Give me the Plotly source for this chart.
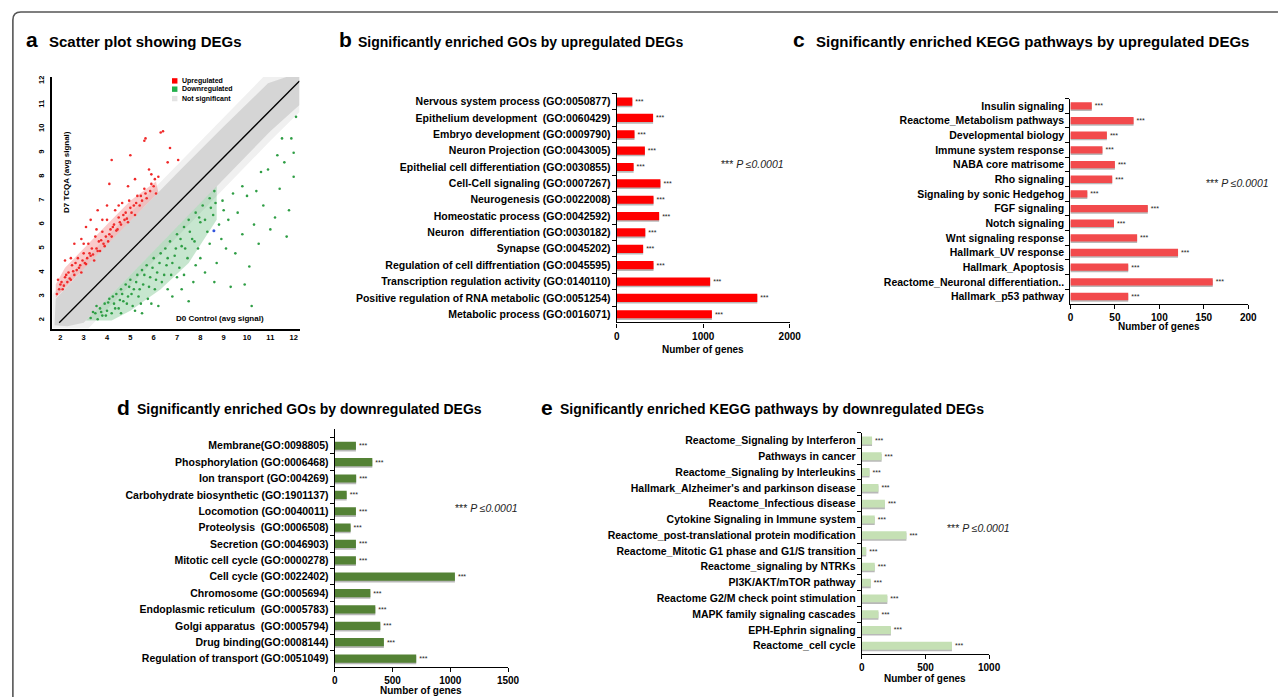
import plotly.graph_objects as go

W, H = 1287, 697


def px(x):
    return x / W


def py(y):
    return 1 - y / H


FONT = "Liberation Sans, Arial, sans-serif"

# ---------------- Panel a: scatter ----------------
gray_outer_x = [1.66, 1.66, 3.0, 5.0, 7.0, 9.0, 10.7, 12.25, 12.25, 11.0, 9.0, 7.0, 5.0, 3.2]
gray_outer_y = [1.66, 3.1, 4.5, 6.5, 8.5, 10.5, 12.17, 12.17, 10.7, 9.5, 7.5, 5.5, 3.5, 1.66]
gray_inner_x = [1.75, 1.8, 3.0, 5.0, 7.0, 9.0, 10.9, 11.7, 12.25, 12.25, 11.0, 9.0, 7.0, 5.0, 3.0, 2.3]
gray_inner_y = [1.8, 2.9, 4.15, 6.15, 8.15, 10.1, 11.9, 12.17, 12.17, 11.0, 9.9, 7.9, 5.9, 3.9, 1.9, 1.75]
red_band_x = [1.8, 6.2, 6.1, 5.0, 4.0, 3.0, 2.2, 1.8]
red_band_y = [2.95, 7.35, 7.8, 7.0, 6.0, 5.0, 4.2, 3.5]
green_band_x = [3.1, 8.7, 8.7, 7.5, 6.3, 5.0, 4.2]
green_band_y = [2.0, 7.6, 6.2, 4.4, 3.3, 2.4, 2.0]

up_x = [1.85, 2.0, 2.1, 2.2, 2.3, 2.35, 2.45, 2.5, 2.6, 2.7, 2.75, 2.85, 2.9, 3.0, 3.05, 3.15,
        3.2, 3.3, 3.35, 3.45, 3.5, 3.55, 3.65, 3.7, 3.8, 3.85, 3.95, 4.0, 4.05, 4.15, 4.2, 4.3,
        4.35, 4.45, 4.5, 4.6, 4.65, 4.75, 4.8, 4.9, 4.95, 5.05, 5.15, 5.2, 5.3, 5.4, 5.5, 5.6,
        5.7, 5.85, 6.0, 6.1, 2.6, 3.1, 3.6, 4.1, 4.2, 5.2, 5.6, 6.3, 6.2, 5.8, 7.05, 6.6, 4.9,
        3.3, 2.9, 6.7, 5.0, 5.65, 6.4,
        1.95, 2.05, 2.15, 2.25, 2.4, 2.55, 2.65, 2.8, 2.95, 3.1, 3.25, 3.4, 3.6, 3.75, 3.9,
        4.1, 4.25, 4.4, 4.55, 4.7, 4.85, 5.0, 5.25, 5.45, 5.65, 5.9, 6.05, 2.45, 3.55, 4.5,
        3.0, 2.2, 1.9, 5.9, 4.0, 3.8]
up_y = [3.1, 3.5, 3.3, 3.8, 3.6, 4.0, 3.7, 4.3, 3.9, 4.1, 4.6, 4.3, 4.0, 4.8, 4.4, 4.6,
        5.2, 4.7, 5.0, 4.5, 5.5, 5.0, 5.3, 4.9, 5.7, 5.2, 5.5, 6.2, 5.3, 5.8, 5.5, 6.0,
        6.6, 5.8, 6.3, 6.0, 6.9, 6.2, 6.5, 6.1, 7.0, 6.5, 6.8, 6.4, 7.2, 6.8, 7.0, 7.5,
        7.1, 7.4, 7.6, 7.3, 5.2, 5.9, 6.6, 7.7, 8.7, 7.9, 9.5, 9.85, 8.0, 8.3, 8.7, 8.6, 7.6,
        6.2, 5.4, 9.2, 8.9, 9.6, 9.9,
        3.3, 3.6, 3.45, 3.9, 3.75, 4.05, 4.4, 4.2, 4.5, 4.35, 4.8, 4.75, 4.9, 5.35, 5.1,
        5.6, 5.9, 5.75, 6.1, 6.4, 6.25, 6.7, 6.9, 7.2, 7.3, 7.7, 7.9, 4.6, 5.8, 6.8,
        5.2, 4.5, 3.7, 8.1, 6.8, 6.2]

down_x = [3.3, 3.5, 3.6, 3.7, 3.8, 3.9, 4.0, 4.1, 4.2, 4.3, 4.4, 4.5, 4.6, 4.7, 4.8, 4.9,
          5.0, 5.1, 5.15, 5.3, 5.35, 5.5, 5.55, 5.7, 5.75, 5.85, 6.0, 6.05, 6.15, 6.3, 6.35,
          6.5, 6.55, 6.7, 6.75, 6.9, 7.0, 7.1, 7.2, 7.3, 7.45, 7.5, 7.65, 7.8, 7.9, 8.0, 8.1,
          8.3, 8.4, 8.55, 8.6, 8.8, 5.5, 6.2, 6.8, 7.2, 7.7, 8.2, 8.7, 9.1, 9.5, 9.8, 10.1,
          10.3, 10.7, 11.0, 11.4, 11.8, 12.1, 11.9, 11.3, 10.6, 9.4, 9.0, 10.0, 10.2, 9.3,
          11.6, 12.0, 7.0, 8.0,
          3.4, 3.55, 3.75, 3.95, 4.05, 4.25, 4.35, 4.55, 4.65, 4.85, 4.95, 5.05, 5.25, 5.4,
          5.45, 5.6, 5.8, 5.95, 6.1, 6.25, 6.45, 6.6, 6.8, 6.95, 7.15, 7.35, 7.55, 7.75, 7.95,
          8.2, 8.45, 8.65, 4.6, 5.2, 5.9, 6.6, 7.3, 7.8, 8.4, 8.9, 9.2, 9.6, 8.95, 9.8, 10.4,
          10.9, 11.5, 12.0, 11.2, 10.5, 9.9, 11.7, 8.6, 7.5]
down_y = [2.1, 2.3, 2.05, 2.5, 2.2, 2.7, 2.4, 2.9, 2.3, 2.7, 3.1, 2.5, 3.3, 2.8, 3.5, 3.0,
          3.7, 2.6, 3.3, 3.9, 3.0, 4.1, 3.5, 4.3, 2.9, 3.8, 4.6, 3.3, 4.0, 4.8, 3.6,
          5.0, 4.3, 5.3, 3.9, 4.7, 5.6, 4.2, 5.1, 5.9, 4.6, 6.2, 5.4, 6.5, 5.0, 6.1, 6.8,
          5.7, 7.1, 6.4, 7.4, 6.0, 2.3, 2.6, 3.0, 3.3, 3.6, 4.0, 4.4, 5.0, 4.8, 5.6, 4.25,
          6.0, 6.8, 5.8, 7.5, 6.6, 10.5, 9.6, 8.9, 8.2, 7.3, 6.6, 7.2, 2.6, 3.4,
          8.6, 9.0, 3.8, 4.6,
          2.35, 2.6, 2.35, 2.2, 2.75, 3.0, 2.5, 2.85, 3.1, 2.7, 3.4, 3.1, 3.6, 3.3,
          2.7, 3.9, 3.4, 4.2, 3.7, 4.4, 3.9, 4.6, 4.4, 5.0, 5.4, 5.0, 5.7, 5.3, 6.3,
          6.2, 6.7, 6.9, 2.3, 2.4, 2.7, 3.3, 3.9, 4.3, 5.2, 5.4, 6.2, 6.5, 7.0, 7.6, 7.4,
          8.3, 9.6, 8.0, 6.3, 5.2, 3.5, 5.5, 3.6, 2.8]

highlight_x = [8.58]
highlight_y = [5.74]

diag_x = [1.95, 12.25]
diag_y = [1.9, 12.0]

scatter_ticks = [2, 3, 4, 5, 6, 7, 8, 9, 10, 11, 12]

# ---------------- Panel b ----------------
b_labels = ["Nervous system process (GO:0050877)", "Epithelium development  (GO:0060429)",
            "Embryo development (GO:0009790)", "Neuron Projection (GO:0043005)",
            "Epithelial cell differentiation (GO:0030855)", "Cell-Cell signaling (GO:0007267)",
            "Neurogenesis (GO:0022008)", "Homeostatic process (GO:0042592)",
            "Neuron  differentiation (GO:0030182)", "Synapse (GO:0045202)",
            "Regulation of cell diffrentiation (GO:0045595)",
            "Transcription regulation activity (GO:0140110)",
            "Positive regulation of RNA metabolic (GO:0051254)", "Metabolic process (GO:0016071)"]
b_values = [180, 420, 205, 325, 195, 505, 425, 490, 330, 305, 425, 1080, 1625, 1100]
b_ticks = [0, 1000, 2000]

# ---------------- Panel c ----------------
c_labels = ["Insulin signaling", "Reactome_Metabolism pathways", "Developmental biology",
            "Immune system response", "NABA core matrisome", "Rho signaling",
            "Signaling by sonic Hedgehog", "FGF signaling", "Notch signaling",
            "Wnt signaling response", "Hallmark_UV response", "Hallmark_Apoptosis",
            "Reactome_Neuronal differentiation..", "Hallmark_p53 pathway"]
c_values = [24, 71, 41, 36, 50, 47, 19, 87, 49, 75, 121, 65, 160, 65]
c_ticks = [0, 50, 100, 150, 200]

# ---------------- Panel d ----------------
d_labels = ["Membrane(GO:0098805)", "Phosphorylation (GO:0006468)", "Ion transport (GO:004269)",
            "Carbohydrate biosynthetic (GO:1901137)", "Locomotion (GO:0040011)",
            "Proteolysis  (GO:0006508)", "Secretion (GO:0046903)",
            "Mitotic cell cycle (GO:0000278)", "Cell cycle (GO:0022402)",
            "Chromosome (GO:0005694)", "Endoplasmic reticulum  (GO:0005783)",
            "Golgi apparatus  (GO:0005794)", "Drug binding(GO:0008144)",
            "Regulation of transport (GO:0051049)"]
d_values = [183, 325, 185, 103, 183, 137, 183, 183, 1040, 308, 351, 394, 425, 705]
d_ticks = [0, 500, 1000, 1500]

# ---------------- Panel e ----------------
e_labels = ["Reactome_Signaling by Interferon", "Pathways in cancer",
            "Reactome_Signaling by Interleukins", "Hallmark_Alzheimer's and parkinson disease",
            "Reactome_Infectious disease", "Cytokine Signaling in Immune system",
            "Reactome_post-translational protein modification",
            "Reactome_Mitotic G1 phase and G1/S transition", "Reactome_signaling by NTRKs",
            "PI3K/AKT/mTOR pathway", "Reactome G2/M check point stimulation",
            "MAPK family signaling cascades", "EPH-Ephrin signaling", "Reactome_cell cycle"]
e_values = [80, 155, 60, 130, 181, 101, 350, 34, 101, 70, 200, 130, 228, 708]
e_ticks = [0, 500, 1000]

fig = go.Figure()


def poly(xs, ys, color):
    fig.add_trace(go.Scatter(x=xs, y=ys, fill="toself", fillcolor=color, mode="lines",
                             line=dict(width=0), hoverinfo="skip", xaxis="x", yaxis="y"))


poly(gray_outer_x, gray_outer_y, "#f0f0f0")
poly(gray_inner_x, gray_inner_y, "#d5d5d5")
poly(red_band_x, red_band_y, "rgba(235,50,50,0.26)")
poly(green_band_x, green_band_y, "rgba(40,160,70,0.26)")

fig.add_trace(go.Scatter(x=up_x, y=up_y, mode="markers", marker=dict(size=2.6, color="#f02a2a"),
                         xaxis="x", yaxis="y", name="Upregulated"))
fig.add_trace(go.Scatter(x=down_x, y=down_y, mode="markers", marker=dict(size=2.6, color="#2f9e45"),
                         xaxis="x", yaxis="y", name="Downregulated"))
fig.add_trace(go.Scatter(x=highlight_x, y=highlight_y, mode="markers",
                         marker=dict(size=3, color="#3355dd"), xaxis="x", yaxis="y"))
fig.add_trace(go.Scatter(x=diag_x, y=diag_y, mode="lines", line=dict(color="black", width=1.3),
                         xaxis="x", yaxis="y", hoverinfo="skip"))


def bars(labels, values, color, ax):
    n = len(labels)
    fig.add_trace(go.Bar(x=values, y=labels, orientation="h", width=0.5, offset=-0.15,
                         marker=dict(color="rgba(0,0,0,0.28)", line=dict(width=0)),
                         xaxis="x" + ax, yaxis="y" + ax, hoverinfo="skip"))
    fig.add_trace(go.Bar(x=values, y=labels, orientation="h", width=0.5, offset=-0.25,
                         marker=dict(color=color, line=dict(width=0)),
                         text=["***"] * n, textposition="outside", constraintext="none",
                         cliponaxis=False, textfont=dict(size=7, color="#222", family=FONT),
                         xaxis="x" + ax, yaxis="y" + ax))


bars(b_labels, b_values, "#ff0000", "2")
bars(c_labels, c_values, "#f24a4c", "3")
bars(d_labels, d_values, "#548235", "4")
bars(e_labels, e_values, "#c5e0b4", "5")

bold = dict(family=FONT, size=10, color="black", weight="bold")
lab_font = dict(family=FONT, size=10.5, color="black", weight="bold")


def xax(x0, x1, rng, ticks, anchor):
    return dict(domain=[px(x0), px(x1)], range=rng, tickvals=ticks, showline=True,
                linecolor="black", linewidth=1.3, ticks="outside", ticklen=4, tickcolor="black",
                tickwidth=1.2, tickfont=bold, showgrid=False, zeroline=False, anchor=anchor,
                fixedrange=True)


def yax(y_top, y_bot, labels, rng, anchor):
    return dict(domain=[py(y_bot), py(y_top)], type="category", categoryorder="array",
                categoryarray=labels, range=rng, showline=True, linecolor="black", linewidth=1.3,
                ticks="outside", tickson="boundaries", ticklen=4, tickcolor="black", tickwidth=1.2,
                tickfont=lab_font, showgrid=False, zeroline=False, anchor=anchor,
                ticklabelstandoff=3, fixedrange=True)


layout = dict(
    width=W, height=H, margin=dict(l=0, r=0, t=0, b=0), paper_bgcolor="white",
    plot_bgcolor="rgba(0,0,0,0)", showlegend=False, barmode="overlay",
    font=dict(family=FONT, color="black"),
    xaxis=dict(domain=[px(50), px(300)], range=[1.66, 12.25], tickvals=scatter_ticks,
               showline=True, linecolor="black", linewidth=1.5, ticks="", showgrid=False,
               zeroline=False, anchor="y", ticklabelstandoff=1, fixedrange=True,
               tickfont=dict(family=FONT, size=7.5, color="black", weight="bold")),
    yaxis=dict(domain=[py(328), py(76)], range=[1.66, 12.17], tickvals=scatter_ticks,
               tickangle=-90, showline=True, linecolor="black", linewidth=1.5, ticks="",
               showgrid=False, zeroline=False, anchor="x", ticklabelstandoff=4, fixedrange=True,
               tickfont=dict(family=FONT, size=7.5, color="black", weight="bold")),
    xaxis2=xax(621, 796, [0, 2000], b_ticks, "y2"),
    yaxis2=yax(92.5, 321.9, b_labels, [13.5, -0.5], "x2"),
    xaxis3=xax(1080, 1260, [0, 200], c_ticks, "y3"),
    yaxis3=yax(97.7, 303.3, c_labels, [13.5, -0.5], "x3"),
    xaxis4=xax(335.7, 511, [0, 1500], d_ticks, "y4"),
    yaxis4=yax(429, 666.7, d_labels, [13.5, -1], "x4"),
    xaxis5=xax(869, 997.7, [0, 1000], e_ticks, "y5"),
    yaxis5=yax(432.2, 653.6, e_labels, [13.5, -0.5], "x5"),
)
fig.update_layout(**layout)

ann = []


def text(x, y, s, size, xanchor="left", weight="bold", angle=0, color="black"):
    ann.append(dict(x=px(x), y=py(y), xref="paper", yref="paper", text=s, showarrow=False,
                    xanchor=xanchor, yanchor="middle", textangle=angle,
                    font=dict(family=FONT, size=size, color=color, weight=weight)))


# panel letters and titles
text(21, 39, "a", 21)
text(45, 41, "Scatter plot showing DEGs", 15)
text(338, 39, "b", 21)
text(357, 41, "Significantly enriched GOs by upregulated DEGs", 14)
text(797, 39, "c", 21)
text(821, 41, "Significantly enriched KEGG pathways by upregulated DEGs", 15)
text(113, 407, "d", 21)
text(134, 409, "Significantly enriched GOs by downregulated DEGs", 14)
text(542, 407, "e", 21)
text(562, 409, "Significantly enriched KEGG pathways by downregulated DEGs", 14)

# p-value notes
for (x, y) in [(724, 163), (1215, 182), (455, 508), (953, 528)]:
    text(x, y, "*** <i>P ≤0.0001</i>", 10.5, weight="normal", color="#222")

# axis titles
for (x, y) in [(708, 349), (1170, 326), (423, 690), (933, 678)]:
    text(x, y, "Number of genes", 10, xanchor="center")

text(65, 171, "D7 TCQA (avg signal)", 8, xanchor="center", angle=-90)
text(220, 318, "D0 Control (avg signal)", 8, xanchor="center")

# scatter legend
leg_items = [("Upregulated", "#ff0000", 80), ("Downregulated", "#22b04c", 88.3),
             ("Not significant", "#e3e3e3", 97.7)]
shapes = []
for name, col, yy in leg_items:
    shapes.append(dict(type="rect", xref="paper", yref="paper", x0=px(171), x1=px(176.5),
                       y0=py(yy + 2.7), y1=py(yy - 2.7), fillcolor=col, line=dict(width=0)))
    text(179, yy, name, 7)

# outer frame with rounded corner
shapes.append(dict(type="path", xref="paper", yref="paper", layer="above",
                   path=f"M {px(10)},{py(700)} L {px(10)},{py(19)} Q {px(10)},{py(11)} {px(18)},{py(11)} L {px(1290)},{py(11)}",
                   line=dict(color="#555555", width=1.6)))

fig.update_layout(annotations=ann, shapes=shapes)
fig.write_html("out.html", post_script="document.body.style.margin='0';",
               config={"displayModeBar": False})
